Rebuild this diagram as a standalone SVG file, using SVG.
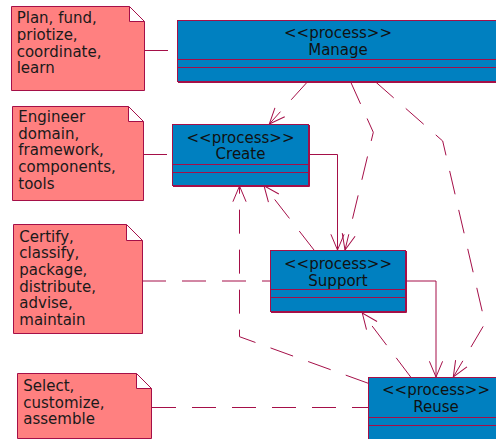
<svg xmlns="http://www.w3.org/2000/svg" width="496" height="439" viewBox="0 0 496 439">
  <style>
    .note path { fill: #ff8080; stroke: #a50f48; stroke-width: 1; }
    .note text { font-family: "DejaVu Sans", "Liberation Sans", sans-serif; font-size: 15px; fill: #1a1a1a; }
    .proc rect { fill: #0080c0; stroke: #a50f48; stroke-width: 1; }
    .proc line, .proc polyline { stroke: #a50f48; stroke-width: 1; fill: none; }
    .proc text { font-family: "DejaVu Sans", "Liberation Sans", sans-serif; font-size: 15px; fill: #111; text-anchor: middle; }
    .edge { fill: none; stroke: #a50f48; stroke-width: 1; }
    .dash { stroke-dasharray: 24 16; }
    .arrow { marker-end: url(#open); }
  </style>
  <defs>
    <marker id="open" markerUnits="userSpaceOnUse" markerWidth="40" markerHeight="40" viewBox="-20 -20 40 40" refX="0" refY="0" orient="auto" overflow="visible">
      <path d="M-15.7,-6.6 L0,0 L-15.7,6.6" fill="none" stroke="#a50f48" stroke-width="1" stroke-dasharray="none"/>
    </marker>
  </defs>

  <!-- connectors -->
  <g id="connectors">
    <path class="edge dash" d="M144,50.5 L177,50.5"/>
    <path class="edge dash" d="M143,154.5 L172,154.5"/>
    <path class="edge dash" d="M142,281 L270,281"/>
    <path class="edge dash" d="M152,407.5 L368,407.5"/>
    <path class="edge dash arrow" d="M307.3,82 L269.3,124"/>
    <path class="edge dash arrow" d="M350.7,82 L373.3,132.3 L345,250"/>
    <path class="edge dash arrow" d="M375.7,82 L442.7,141 L485,323.3 L453.3,377"/>
    <path class="edge arrow" d="M309,154.5 L337.5,154.5 L337.5,250"/>
    <path class="edge dash arrow" d="M314,250 L264,185.7"/>
    <path class="edge dash arrow" d="M368.3,383.3 L239.5,336.7 L239.5,186"/>
    <path class="edge arrow" d="M406,281 L436,281 L436,377"/>
    <path class="edge dash arrow" d="M410.7,377 L362.3,313"/>
  </g>

  <!-- notes -->
  <g id="note-manage" class="note">
    <path d="M11.5,6.5 H129.5 L144.5,21.5 V90.5 H11.5 Z M129.5,6.5 V21.5 H144.5"/>
    <text x="16.7" y="23.3">Plan, fund,</text>
    <text x="16.7" y="40">priotize,</text>
    <text x="16.7" y="56.5">coordinate,</text>
    <text x="16.7" y="73">learn</text>
  </g>
  <g id="note-create" class="note">
    <path d="M12.5,106.5 H128.5 L143.5,121.5 V200.5 H12.5 Z M128.5,106.5 V121.5 H143.5"/>
    <text x="18.3" y="121.7">Engineer</text>
    <text x="18.3" y="138.5">domain,</text>
    <text x="18.3" y="155.3">framework,</text>
    <text x="18.3" y="172">components,</text>
    <text x="18.3" y="189">tools</text>
  </g>
  <g id="note-support" class="note">
    <path d="M13.5,224.5 H126.5 L142.5,240.5 V333.5 H13.5 Z M126.5,224.5 V240.5 H142.5"/>
    <text x="19.3" y="241.7">Certify,</text>
    <text x="19.3" y="258.3">classify,</text>
    <text x="19.3" y="275">package,</text>
    <text x="19.3" y="291.7">distribute,</text>
    <text x="19.3" y="308.3">advise,</text>
    <text x="19.3" y="325">maintain</text>
  </g>
  <g id="note-reuse" class="note">
    <path d="M17.5,373.5 H136.5 L151.5,388.5 V438.5 H17.5 Z M136.5,373.5 V388.5 H151.5"/>
    <text x="23.3" y="390.7">Select,</text>
    <text x="23.3" y="407.5">customize,</text>
    <text x="23.3" y="424.3">assemble</text>
  </g>

  <!-- process classes -->
  <g id="manage" class="proc">
    <rect x="177.5" y="20.5" width="323" height="61"/>
    <polyline points="178,82.5 501,82.5"/>
    <line x1="177.5" y1="59.5" x2="500.5" y2="59.5"/>
    <line x1="177.5" y1="67.5" x2="500.5" y2="67.5"/>
    <text x="338" y="37.5">&lt;&lt;process&gt;&gt;</text>
    <text x="338" y="54.5">Manage</text>
  </g>
  <g id="create" class="proc">
    <rect x="172.5" y="124.5" width="136" height="61"/>
    <polyline points="309.5,125 309.5,186.5 173,186.5"/>
    <line x1="172.5" y1="164.5" x2="308.5" y2="164.5"/>
    <line x1="172.5" y1="172.5" x2="308.5" y2="172.5"/>
    <text x="240.5" y="142.7">&lt;&lt;process&gt;&gt;</text>
    <text x="240.5" y="159.2">Create</text>
  </g>
  <g id="support" class="proc">
    <rect x="270.5" y="250.5" width="135" height="61"/>
    <polyline points="406.5,251 406.5,312.5 271,312.5"/>
    <line x1="270.5" y1="289.5" x2="405.5" y2="289.5"/>
    <line x1="270.5" y1="297.5" x2="405.5" y2="297.5"/>
    <text x="338" y="269">&lt;&lt;process&gt;&gt;</text>
    <text x="338" y="285.7">Support</text>
  </g>
  <g id="reuse" class="proc">
    <rect x="368.5" y="377.5" width="136" height="62"/>
    <line x1="368.5" y1="417.5" x2="504.5" y2="417.5"/>
    <line x1="368.5" y1="425.5" x2="504.5" y2="425.5"/>
    <text x="436" y="395">&lt;&lt;process&gt;&gt;</text>
    <text x="436" y="412">Reuse</text>
  </g>
</svg>
